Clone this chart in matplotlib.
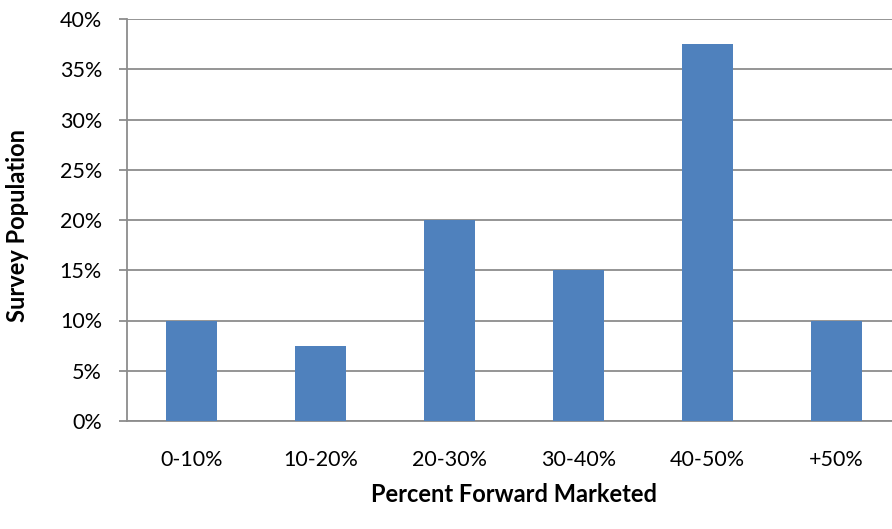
import matplotlib.pyplot as plt
import numpy as np

# Data
categories = ['0-10%', '10-20%', '20-30%', '30-40%', '40-50%', '+50%']
values     = [10, 7.5, 20, 15, 37.5, 10]
yticks     = [0, 5, 10, 15, 20, 25, 30, 35, 40]

plt.rcParams.update({'font.family': ['Lato', 'DejaVu Sans'],
                     'font.size': 15.5})

fig = plt.figure(figsize=(8.92, 5.29), dpi=100)
# axis runs past the right edge of the picture, as in the original
ax = fig.add_axes([127/892, 1 - 421/529, (901 - 127)/892, (421 - 19)/529])

x = np.arange(len(categories))
ax.bar(x, values, width=0.395, color='#4F81BD', zorder=3)

grey = '#8c8c8c'
ax.set_xlim(-0.5, len(categories) - 0.5)
ax.set_ylim(0, 40)
ax.set_yticks(yticks)
ax.set_yticklabels(['%d%%' % v for v in yticks])
ax.set_xticks(x)
ax.set_xticklabels(categories)
ax.yaxis.grid(True, color=grey, linewidth=1.3, zorder=0)

for s in ['top', 'right']:
    ax.spines[s].set_visible(False)
ax.spines['left'].set_color(grey)
ax.spines['left'].set_linewidth(1.3)
ax.spines['bottom'].set_color(grey)
ax.spines['bottom'].set_linewidth(1.3)
ax.tick_params(axis='y', length=6, width=1.3, color=grey, pad=12)
ax.tick_params(axis='x', length=0, pad=21)

fig.text(514/892, 1 - 494/529, 'Percent Forward Marketed', ha='center', va='center',
         fontsize=17, fontweight='bold')
fig.text(18/892, 1 - 225/529, 'Survey Population', ha='center', va='center',
         rotation=90, fontsize=17, fontweight='bold')

plt.savefig('out.png', dpi=100)
